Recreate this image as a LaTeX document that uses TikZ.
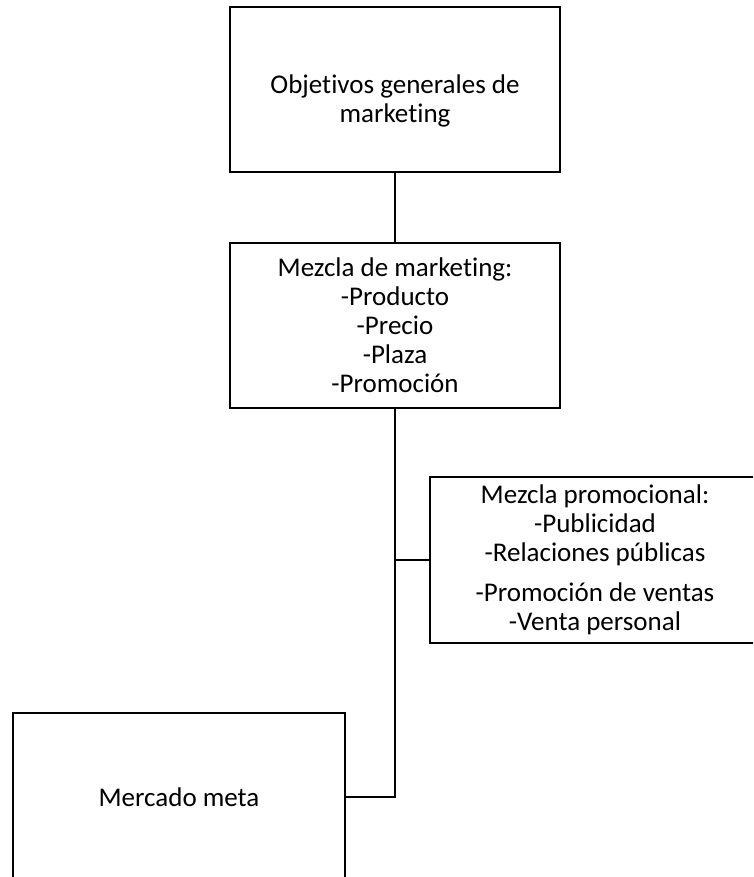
\documentclass[tikz,border=0pt]{standalone}
\usepackage{fontspec}
\setmainfont{Carlito}[Ligatures=NoCommon]
\begin{document}
\begin{tikzpicture}[x=1pt,y=-1pt,
  box/.style={draw=black, fill=white, line width=2.8pt, minimum width=330pt, minimum height=165pt,
    inner sep=0pt, align=center, font=\fontsize{27}{29}\selectfont},
  txt/.style={inner sep=0pt, align=center, font=\fontsize{27}{29}\selectfont},
  link/.style={draw=black, line width=2.5pt}]
\useasboundingbox (0,0) rectangle (753,877);
\clip (0,0) rectangle (753,877);
\node[box] (obj) at (395,89.5) {};
\node[txt] (objt) at (395,101) {Objetivos generales de\\marketing};
\node[box] (mix) at (395,325.5) {Mezcla de marketing:\\-Producto\\-Precio\\-Plaza\\-Promoción};
\node[box, minimum height=166pt] (promo) at (595,560) {Mezcla promocional:\\-Publicidad\\-Relaciones públicas\\[11pt]-Promoción de ventas\\-Venta personal};
\node[box, minimum width=332pt, minimum height=168pt] (meta) at (179,797) {Mercado meta};
\coordinate (j1) at (mix.south |- promo.west);
\coordinate (j2) at (mix.south |- meta.east);
\draw[link] (obj.south) -- (mix.north);
\draw[link] (mix.south) -- (j2) -- (meta.east);
\draw[link] (j1) -- (promo.west);
\end{tikzpicture}
\end{document}
